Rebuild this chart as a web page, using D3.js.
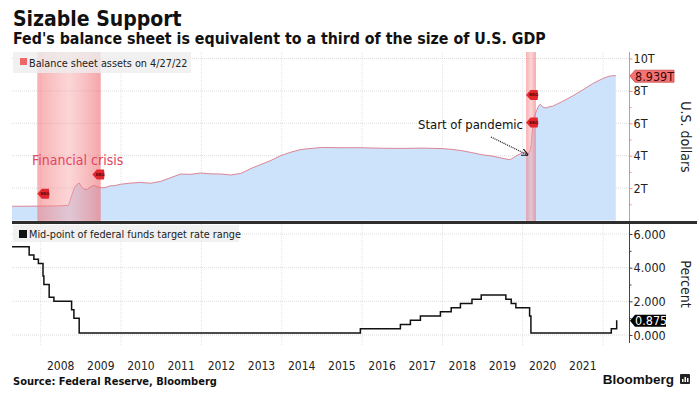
<!DOCTYPE html>
<html>
<head>
<meta charset="utf-8">
<script src="https://cdn.jsdelivr.net/npm/d3@7"></script>
<style>
  body { margin: 0; background: #fff; }
  svg { display: block; font-family: "DejaVu Sans Condensed", "DejaVu Sans", sans-serif; }
</style>
</head>
<body>
<div id="chart"></div>
<script>
// balance sheet, trillions of dollars
const bsDates = ["2007-04-15","2007-08-01","2007-12-01","2008-03-01","2008-06-01","2008-09-10","2008-09-24","2008-10-08","2008-10-22","2008-11-05","2008-11-19","2008-12-17","2009-01-07","2009-01-28","2009-02-25","2009-03-25","2009-04-29","2009-05-27","2009-06-24","2009-07-29","2009-08-26","2009-09-30","2009-10-28","2009-12-30","2010-03-31","2010-06-30","2010-09-29","2010-12-29","2011-03-30","2011-06-29","2011-09-28","2011-12-28","2012-03-28","2012-06-27","2012-09-26","2012-12-26","2013-03-27","2013-06-26","2013-09-25","2013-12-25","2014-03-26","2014-06-25","2014-09-24","2014-12-31","2015-06-24","2015-12-30","2016-06-29","2016-12-28","2017-06-28","2017-12-27","2018-03-28","2018-06-27","2018-09-26","2018-12-26","2019-03-27","2019-06-26","2019-08-28","2019-09-11","2019-10-30","2019-12-25","2020-01-29","2020-02-26","2020-03-11","2020-03-18","2020-03-25","2020-04-01","2020-04-15","2020-04-29","2020-05-27","2020-06-10","2020-07-01","2020-07-29","2020-08-26","2020-09-30","2020-10-28","2020-11-25","2020-12-30","2021-03-31","2021-06-30","2021-09-29","2021-12-29","2022-02-23","2022-03-30","2022-04-27"];
const bsValues = [0.88,0.88,0.89,0.89,0.90,0.93,1.23,1.54,1.80,2.06,2.19,2.31,2.07,1.95,1.90,2.05,2.17,2.08,2.03,2.02,2.07,2.15,2.14,2.24,2.31,2.35,2.30,2.42,2.65,2.87,2.85,2.93,2.88,2.87,2.81,2.91,3.21,3.46,3.71,4.01,4.22,4.38,4.45,4.51,4.49,4.49,4.46,4.45,4.47,4.44,4.39,4.31,4.19,4.06,3.98,3.85,3.76,3.76,3.97,4.17,4.17,4.16,4.36,4.67,5.25,5.81,6.37,6.66,7.10,7.17,7.00,6.95,7.01,7.06,7.15,7.24,7.36,7.69,8.06,8.45,8.76,8.90,8.94,8.939];

// mid-point of fed funds target range, percent
const rateDates = ["2007-04-15","2007-09-18","2007-10-31","2007-12-11","2008-01-22","2008-01-30","2008-03-18","2008-04-30","2008-10-08","2008-10-29","2008-12-16","2015-12-17","2016-12-15","2017-03-16","2017-06-15","2017-12-14","2018-03-22","2018-06-14","2018-09-27","2018-12-20","2019-08-01","2019-09-19","2019-10-31","2020-03-04","2020-03-16","2022-03-17","2022-05-05"];
const rateValues = [5.25,4.75,4.50,4.25,3.50,3.00,2.25,2.00,1.50,1.00,0.125,0.375,0.625,0.875,1.125,1.375,1.625,1.875,2.125,2.375,2.125,1.875,1.625,1.125,0.125,0.375,0.875];

// recessions
const bandStarts = ["2007-12-01","2020-02-01"];
const bandEnds = ["2009-06-30","2020-04-30"];

// news markers on the top panel
const markerDates = ["2007-12-01","2009-04-15","2020-02-01","2020-02-01"];
const markerLevels = [1.65,2.84,6.05,7.75];

const yearLabels = d3.range(2008, 2022);
const bsTicks = [2, 4, 6, 8, 10];
const rateTicks = [0, 2, 4, 6];
const bsLast = "8.939T";
const rateLast = "0.875";

const width = 697;
const height = 395;
const left = 12;
const right = 629;

const parse = d3.timeParse("%Y-%m-%d");
const bs = bsDates.map((d, i) => ({ date: parse(d), value: bsValues[i] }));
const rates = rateDates.map((d, i) => ({ date: parse(d), value: rateValues[i] }));

const svg = d3.select('#chart')
  .append('svg')
  .attr('width', width)
  .attr('height', height)

const defs = svg.append('defs');
const grad = defs.append('linearGradient')
  .attr('id', 'band')
  .attr('x1', 0).attr('x2', 1).attr('y1', 0).attr('y2', 0)
grad.append('stop').attr('offset', '0%').attr('stop-color', '#f36f72').attr('stop-opacity', 0.55)
grad.append('stop').attr('offset', '50%').attr('stop-color', '#f7a3a5').attr('stop-opacity', 0.45)
grad.append('stop').attr('offset', '100%').attr('stop-color', '#ee6a70').attr('stop-opacity', 0.6)

const xScale = d3.scaleTime()
  .domain([parse("2007-04-15"), parse("2022-08-25")])
  .range([left, right])

const yTop = d3.scaleLinear()
  .domain([0, 10])
  .range([220.5, 58.5])

const yBot = d3.scaleLinear()
  .domain([0, 6])
  .range([335, 234])

const topY0 = 52, topY1 = 221;
const botY0 = 224, botY1 = 343;

// title
svg.append('text')
  .attr('x', 13).attr('y', 26)
  .attr('font-size', 21).attr('font-weight', 'bold').attr('fill', '#111')
  .text('Sizable Support')

svg.append('text')
  .attr('x', 13).attr('y', 44)
  .attr('font-size', 15.8).attr('font-weight', 'bold').attr('fill', '#111')
  .text("Fed's balance sheet is equivalent to a third of the size of U.S. GDP")

// grid
const evenYears = d3.range(2008, 2023, 2).map(y => new Date(y, 0, 1));

svg.append('g')
  .selectAll('line')
  .data(evenYears)
  .enter()
  .append('line')
  .attr('x1', d => xScale(d)).attr('x2', d => xScale(d))
  .attr('y1', topY0).attr('y2', botY1 + 2)
  .attr('stroke', '#e3e3e3').attr('stroke-dasharray', '1,1')

svg.append('g')
  .selectAll('line')
  .data(bsTicks)
  .enter()
  .append('line')
  .attr('x1', left).attr('x2', right)
  .attr('y1', d => yTop(d)).attr('y2', d => yTop(d))
  .attr('stroke', '#dcdcdc').attr('stroke-dasharray', '1,1')

svg.append('g')
  .selectAll('line')
  .data(rateTicks)
  .enter()
  .append('line')
  .attr('x1', left).attr('x2', right)
  .attr('y1', d => yBot(d)).attr('y2', d => yBot(d))
  .attr('stroke', '#dcdcdc').attr('stroke-dasharray', '1,1')

// balance sheet area + line
const area = d3.area()
  .x(d => xScale(d.date))
  .y0(yTop(0))
  .y1(d => yTop(d.value))

const line = d3.line()
  .x(d => xScale(d.date))
  .y(d => yTop(d.value))

svg.append('path')
  .datum(bs)
  .attr('d', area)
  .attr('fill', '#cce3fb')

svg.append('path')
  .datum(bs)
  .attr('d', line)
  .attr('fill', 'none')
  .attr('stroke', '#dd8596')
  .attr('stroke-width', 1)

// recession bands
svg.append('g')
  .selectAll('rect')
  .data(bandStarts)
  .enter()
  .append('rect')
  .attr('x', (d, i) => xScale(parse(d)))
  .attr('width', (d, i) => xScale(parse(bandEnds[i])) - xScale(parse(d)))
  .attr('y', topY0)
  .attr('height', topY1 - topY0)
  .attr('fill', 'url(#band)')

// legend top
svg.append('rect')
  .attr('x', 13).attr('y', 52).attr('width', 178).attr('height', 21)
  .attr('fill', '#eeeeee').attr('opacity', 0.8)
svg.append('rect')
  .attr('x', 20).attr('y', 58).attr('width', 7).attr('height', 7)
  .attr('fill', '#f06767')
svg.append('text')
  .attr('x', 29).attr('y', 67)
  .attr('font-size', 10.8).attr('fill', '#222')
  .text('Balance sheet assets on 4/27/22')

// markers
const markers = svg.append('g')
  .selectAll('g')
  .data(markerDates)
  .enter()
  .append('g')
  .attr('transform', (d, i) => `translate(${xScale(parse(d))},${yTop(markerLevels[i])})`)

markers.append('path')
  .attr('d', 'M0,0 L4.5,-5 L11.5,-5 Q13,0 11.5,5 L4.5,5 Z')
  .attr('fill', '#e3262e')
markers.append('text')
  .attr('x', 7.5).attr('y', 1.5)
  .attr('text-anchor', 'middle')
  .attr('font-size', 4).attr('font-weight', 'bold').attr('fill', '#5a0a0a')
  .text('BBG')

// annotations
svg.append('text')
  .attr('x', 32).attr('y', 165)
  .attr('font-size', 14).attr('fill', '#e2445f')
  .text('Financial crisis')

svg.append('text')
  .attr('x', 418).attr('y', 129)
  .attr('font-size', 13).attr('fill', '#111')
  .text('Start of pandemic')

defs.append('marker')
  .attr('id', 'arrow')
  .attr('viewBox', '0 0 10 10')
  .attr('refX', 9).attr('refY', 5)
  .attr('markerWidth', 6).attr('markerHeight', 6)
  .attr('orient', 'auto')
  .append('path')
  .attr('d', 'M0,0 L10,5 L0,10')
  .attr('fill', 'none').attr('stroke', '#111').attr('stroke-width', 1.5)

svg.append('line')
  .attr('x1', 491).attr('y1', 137)
  .attr('x2', xScale(parse("2020-02-15"))).attr('y2', yTop(4.17) + 2)
  .attr('stroke', '#111').attr('stroke-width', 1.2)
  .attr('stroke-dasharray', '1,1')
  .attr('marker-end', 'url(#arrow)')

// right axis top
const axisTop = d3.axisRight(yTop)
  .tickValues(d3.range(1, 11))
  .tickSize(3)
  .tickFormat(d => d % 2 === 0 ? d + 'T' : '')

const gTop = svg.append('g')
  .attr('transform', `translate(${right + 0.5},0)`)
  .call(axisTop)
gTop.select('.domain').remove()
gTop.selectAll('line').attr('stroke', '#f08a8a')
gTop.selectAll('.tick').filter(d => d % 2 === 1).select('line').attr('x2', 2)
gTop.selectAll('text')
  .attr('x', 4).attr('font-size', 12.5).attr('fill', '#222')
  .attr('font-family', '"DejaVu Sans Condensed", "DejaVu Sans", sans-serif')
gTop.append('line')
  .attr('y1', topY0).attr('y2', topY1)
  .attr('stroke', '#f08a8a')

svg.append('text')
  .attr('transform', `translate(681,137) rotate(90)`)
  .attr('text-anchor', 'middle')
  .attr('font-size', 14).attr('fill', '#222')
  .text('U.S. dollars')

// last value tag top
const tagTop = svg.append('g')
  .attr('transform', `translate(${right + 1},${yTop(8.939) + 0.5})`)
tagTop.append('path')
  .attr('d', 'M0,0 L5,-6 L44,-6 L44,6 L5,6 Z')
  .attr('fill', '#f47373').attr('stroke', '#c94646').attr('stroke-width', 0.8)
tagTop.append('text')
  .attr('x', 5).attr('y', 4.5)
  .attr('font-size', 12.5).attr('fill', '#3b0808')
  .text(bsLast)

// separator
svg.append('rect')
  .attr('x', 12).attr('y', 221).attr('width', width - 12).attr('height', 3)
  .attr('fill', '#2e2e2e')

// rate line
const stepLine = d3.line()
  .x(d => xScale(d.date))
  .y(d => yBot(d.value))
  .curve(d3.curveStepAfter)

svg.append('path')
  .datum(rates)
  .attr('d', stepLine)
  .attr('fill', 'none')
  .attr('stroke', '#111')
  .attr('stroke-width', 1.5)

// legend bottom
svg.append('rect')
  .attr('x', 13).attr('y', 225).attr('width', 226).attr('height', 17)
  .attr('fill', '#eeeeee').attr('opacity', 0.85)
svg.append('rect')
  .attr('x', 19).attr('y', 230).attr('width', 8).attr('height', 8)
  .attr('fill', '#111')
svg.append('text')
  .attr('x', 29).attr('y', 238)
  .attr('font-size', 10.8).attr('fill', '#222')
  .text('Mid-point of federal funds target rate range')

// right axis bottom
const axisBot = d3.axisRight(yBot)
  .tickValues(d3.range(0, 7))
  .tickSize(3)
  .tickFormat(d => d % 2 === 0 ? d3.format('.3f')(d) : '')

const gBot = svg.append('g')
  .attr('transform', `translate(${right + 0.5},0)`)
  .call(axisBot)
gBot.select('.domain').remove()
gBot.selectAll('line').attr('stroke', '#444')
gBot.selectAll('.tick').filter(d => d % 2 === 1).select('line').attr('x2', 2)
gBot.selectAll('text')
  .attr('x', 4).attr('font-size', 12.5).attr('fill', '#222')
  .attr('font-family', '"DejaVu Sans Condensed", "DejaVu Sans", sans-serif')
gBot.append('line')
  .attr('y1', botY0).attr('y2', botY1)
  .attr('stroke', '#444')

svg.append('text')
  .attr('transform', `translate(681,284) rotate(90)`)
  .attr('text-anchor', 'middle')
  .attr('font-size', 14).attr('fill', '#222')
  .text('Percent')

const tagBot = svg.append('g')
  .attr('transform', `translate(${right + 1},${yBot(0.875) + 0.5})`)
tagBot.append('path')
  .attr('d', 'M0,0 L5,-6 L36,-6 L36,6 L5,6 Z')
  .attr('fill', '#000')
tagBot.append('text')
  .attr('x', 5).attr('y', 4.5)
  .attr('font-size', 12.5).attr('fill', '#fff')
  .text(rateLast)

// year labels
svg.append('g')
  .selectAll('text')
  .data(yearLabels)
  .enter()
  .append('text')
  .attr('x', d => xScale(new Date(d, 6, 1)))
  .attr('y', 370)
  .attr('text-anchor', 'middle')
  .attr('font-size', 12).attr('fill', '#222')
  .text(d => d)

// footer
svg.append('text')
  .attr('x', 13).attr('y', 385)
  .attr('font-size', 11).attr('font-weight', 'bold').attr('fill', '#111')
  .text('Source: Federal Reserve, Bloomberg')

svg.append('text')
  .attr('x', 674).attr('y', 384)
  .attr('text-anchor', 'end')
  .attr('font-size', 13.5).attr('font-weight', 'bold').attr('fill', '#111')
  .attr('font-family', '"Liberation Sans", Arial, sans-serif')
  .text('Bloomberg')

const logo = svg.append('g').attr('transform', 'translate(680,374)')
logo.append('rect').attr('width', 10).attr('height', 10).attr('rx', 1).attr('fill', '#222')
logo.append('rect').attr('x', 2).attr('y', 5).attr('width', 1.5).attr('height', 3).attr('fill', '#fff')
logo.append('rect').attr('x', 4.5).attr('y', 3).attr('width', 1.5).attr('height', 5).attr('fill', '#fff')
logo.append('rect').attr('x', 7).attr('y', 4).attr('width', 1.5).attr('height', 4).attr('fill', '#fff')
</script>
</body>
</html>
